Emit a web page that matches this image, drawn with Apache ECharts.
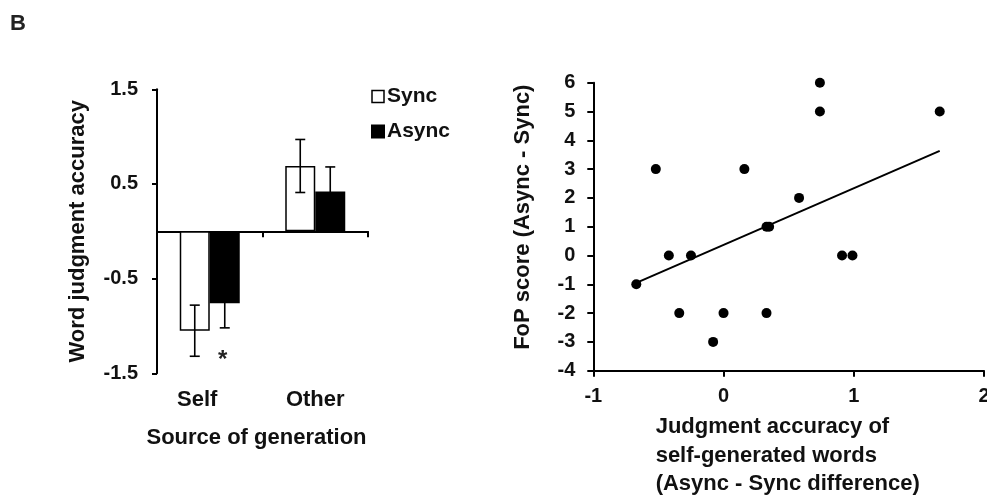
<!DOCTYPE html>
<html>
<head>
<meta charset="utf-8">
<script src="https://cdn.jsdelivr.net/npm/echarts@6/dist/echarts.min.js"></script>
<style>
html,body{margin:0;padding:0;background:#fff;}
#c{width:987px;height:495px;}
</style>
</head>
<body>
<div id="c"></div>
<script>
// ---- Panel B (left): bar chart data ----
const categories = ['Self', 'Other'];
const syncMeans = [-1.05, 0.69];
const syncErrors = [0.27, 0.28];
const asyncMeans = [-0.76, 0.42];
const asyncErrors = [0.26, 0.26];
const asyncSig = ['*', ''];
const barTicks = [-1.5, -0.5, 0.5, 1.5];

// ---- Panel B (right): scatter data ----
const scatterX = [-0.67, -0.52, -0.42, -0.25, -0.34, -0.08, 0.00, 0.16, 0.33, 0.33, 0.35, 0.58, 0.74, 0.74, 0.91, 0.99, 1.66];
const scatterY = [-1, 3, 0, 0, -2, -3, -2, 3, -2, 1, 1, 2, 6, 5, 0, 0, 5];
const trendX = [-0.67, 1.66];
const trendY = [-0.95, 3.63];
const scatterXTicks = [-1, 0, 1, 2];

const TXT = '#111';
const FONT = 'Liberation Sans, Arial, sans-serif';
const chart = echarts.init(document.getElementById('c'), null, {renderer: 'canvas'});

function errRender(offset, sig) {
  return function (params, api) {
    const x = api.value(0), v = api.value(1), e = api.value(2);
    const hi = api.coord([x, v + e]);
    const lo = api.coord([x, v - e]);
    const cx = hi[0] + offset;
    const cap = 5;
    const st = {stroke: '#000', lineWidth: 1.6};
    const children = [
      {type: 'line', shape: {x1: cx, y1: hi[1], x2: cx, y2: lo[1]}, style: st},
      {type: 'line', shape: {x1: cx - cap, y1: hi[1], x2: cx + cap, y2: hi[1]}, style: st},
      {type: 'line', shape: {x1: cx - cap, y1: lo[1], x2: cx + cap, y2: lo[1]}, style: st}
    ];
    const s = sig ? sig[params.dataIndex] : '';
    if (s) {
      children.push({type: 'text', x: cx - 2, y: lo[1] + 33,
        style: {text: s, fill: '#222', font: 'bold 24px ' + FONT, align: 'center', verticalAlign: 'middle'}});
    }
    return {type: 'group', children: children};
  };
}

const tickLabel = {color: TXT, fontSize: 20, fontWeight: 'bold', fontFamily: FONT};
const nameStyle = {color: TXT, fontSize: 22, fontWeight: 'bold', fontFamily: FONT};

chart.setOption({
  animation: false,
  backgroundColor: '#fff',
  title: {text: 'B', left: 5, top: 8, textStyle: {color: '#222', fontSize: 22, fontWeight: 'bold', fontFamily: FONT}},
  legend: {
    left: 371, top: 86, padding: 0, orient: 'vertical', itemWidth: 12, itemHeight: 12, itemGap: 14,
    icon: 'rect',
    textStyle: {color: TXT, fontSize: 21, fontWeight: 'bold', fontFamily: FONT, padding: [0, 0, 0, -2]},
    data: [
      {name: 'Sync', itemStyle: {color: '#fff', borderColor: '#000', borderWidth: 1.5}},
      {name: 'Async', itemStyle: {color: '#000'}}
    ]
  },
  grid: [
    {left: 157, right: 619, top: 89.3, bottom: 121.7, outerBoundsMode: 'none', containLabel: false},
    {left: 593.3, right: 3, top: 82.7, bottom: 124.3, outerBoundsMode: 'none', containLabel: false}
  ],
  xAxis: [
    {
      gridIndex: 0, type: 'category', data: categories,
      axisLine: {onZero: true, lineStyle: {color: '#000', width: 2}},
      axisTick: {show: true, length: 6, lineStyle: {color: '#000', width: 2}},
      axisLabel: {show: false}
    },
    {
      gridIndex: 0, type: 'category', data: categories, position: 'bottom',
      axisLine: {show: false, onZero: false}, axisTick: {show: false},
      axisLabel: Object.assign({}, tickLabel, {
        fontSize: 22, margin: 16,
        formatter: function (v) { return v === 'Self' ? '{s|' + v + '}' : v; },
        rich: {s: {fontSize: 22, fontWeight: 'bold', fontFamily: FONT, color: TXT, padding: [0, 25, 0, 0]}}
      }),
      name: 'Source of generation', nameLocation: 'middle', nameGap: 54,
      nameTextStyle: Object.assign({}, nameStyle, {padding: [0, 12, 0, 0]})
    },
    {
      gridIndex: 1, type: 'value', min: -1, max: 2, interval: 1,
      splitLine: {show: false},
      axisLine: {onZero: false, lineStyle: {color: '#000', width: 2}},
      axisTick: {length: 6, lineStyle: {color: '#000', width: 2}},
      axisLabel: Object.assign({}, tickLabel, {margin: 16, customValues: scatterXTicks}),
      name: '{l|Judgment accuracy of}\n{l|self-generated words}\n{l|(Async - Sync difference)}',
      nameLocation: 'middle', nameGap: 42,
      nameTextStyle: Object.assign({}, nameStyle, {
        lineHeight: 28.5,
        rich: {l: {width: 266, align: 'left', fontSize: 22, fontWeight: 'bold', fontFamily: FONT, color: TXT, lineHeight: 28.5}}
      })
    }
  ],
  yAxis: [
    {
      gridIndex: 0, type: 'value', min: -1.5, max: 1.5,
      splitLine: {show: false},
      axisLine: {show: true, onZero: false, lineStyle: {color: '#000', width: 2}},
      axisTick: {show: true, length: 5, customValues: barTicks, lineStyle: {color: '#000', width: 2}},
      axisLabel: Object.assign({}, tickLabel, {margin: 19, customValues: barTicks}),
      name: 'Word judgment accuracy', nameLocation: 'middle', nameGap: 68,
      nameTextStyle: nameStyle
    },
    {
      gridIndex: 1, type: 'value', min: -4, max: 6, interval: 1,
      splitLine: {show: false},
      axisLine: {show: true, onZero: false, lineStyle: {color: '#000', width: 2}},
      axisTick: {show: true, length: 6, lineStyle: {color: '#000', width: 2}},
      axisLabel: Object.assign({}, tickLabel, {margin: 18}),
      name: 'FoP score (Async - Sync)', nameLocation: 'middle', nameGap: 59,
      nameTextStyle: Object.assign({}, nameStyle, {padding: [0, 0, 0, 19]})
    }
  ],
  series: [
    {
      name: 'Sync', type: 'bar', xAxisIndex: 0, yAxisIndex: 0, data: syncMeans,
      barWidth: 30, barGap: '0%',
      itemStyle: {color: '#fff', borderColor: '#000', borderWidth: 1.5}
    },
    {
      name: 'Async', type: 'bar', xAxisIndex: 0, yAxisIndex: 0, data: asyncMeans,
      barWidth: 30, barGap: '0%',
      itemStyle: {color: '#000', borderColor: '#000', borderWidth: 1.5}
    },
    {
      name: 'SyncErr', type: 'custom', xAxisIndex: 0, yAxisIndex: 0, z: 5,
      renderItem: errRender(-15, null),
      data: categories.map((c, i) => [i, syncMeans[i], syncErrors[i]])
    },
    {
      name: 'AsyncErr', type: 'custom', xAxisIndex: 0, yAxisIndex: 0, z: 5,
      renderItem: errRender(15, asyncSig),
      data: categories.map((c, i) => [i, asyncMeans[i], asyncErrors[i]])
    },
    {
      name: 'Trend', type: 'line', xAxisIndex: 2, yAxisIndex: 1,
      data: trendX.map((x, i) => [x, trendY[i]]),
      showSymbol: false, symbol: 'none', lineStyle: {color: '#000', width: 2}, z: 2
    },
    {
      name: 'Points', type: 'scatter', xAxisIndex: 2, yAxisIndex: 1,
      data: scatterX.map((x, i) => [x, scatterY[i]]),
      symbolSize: 10, itemStyle: {color: '#000', opacity: 1}, z: 3
    }
  ]
});
</script>
</body>
</html>
